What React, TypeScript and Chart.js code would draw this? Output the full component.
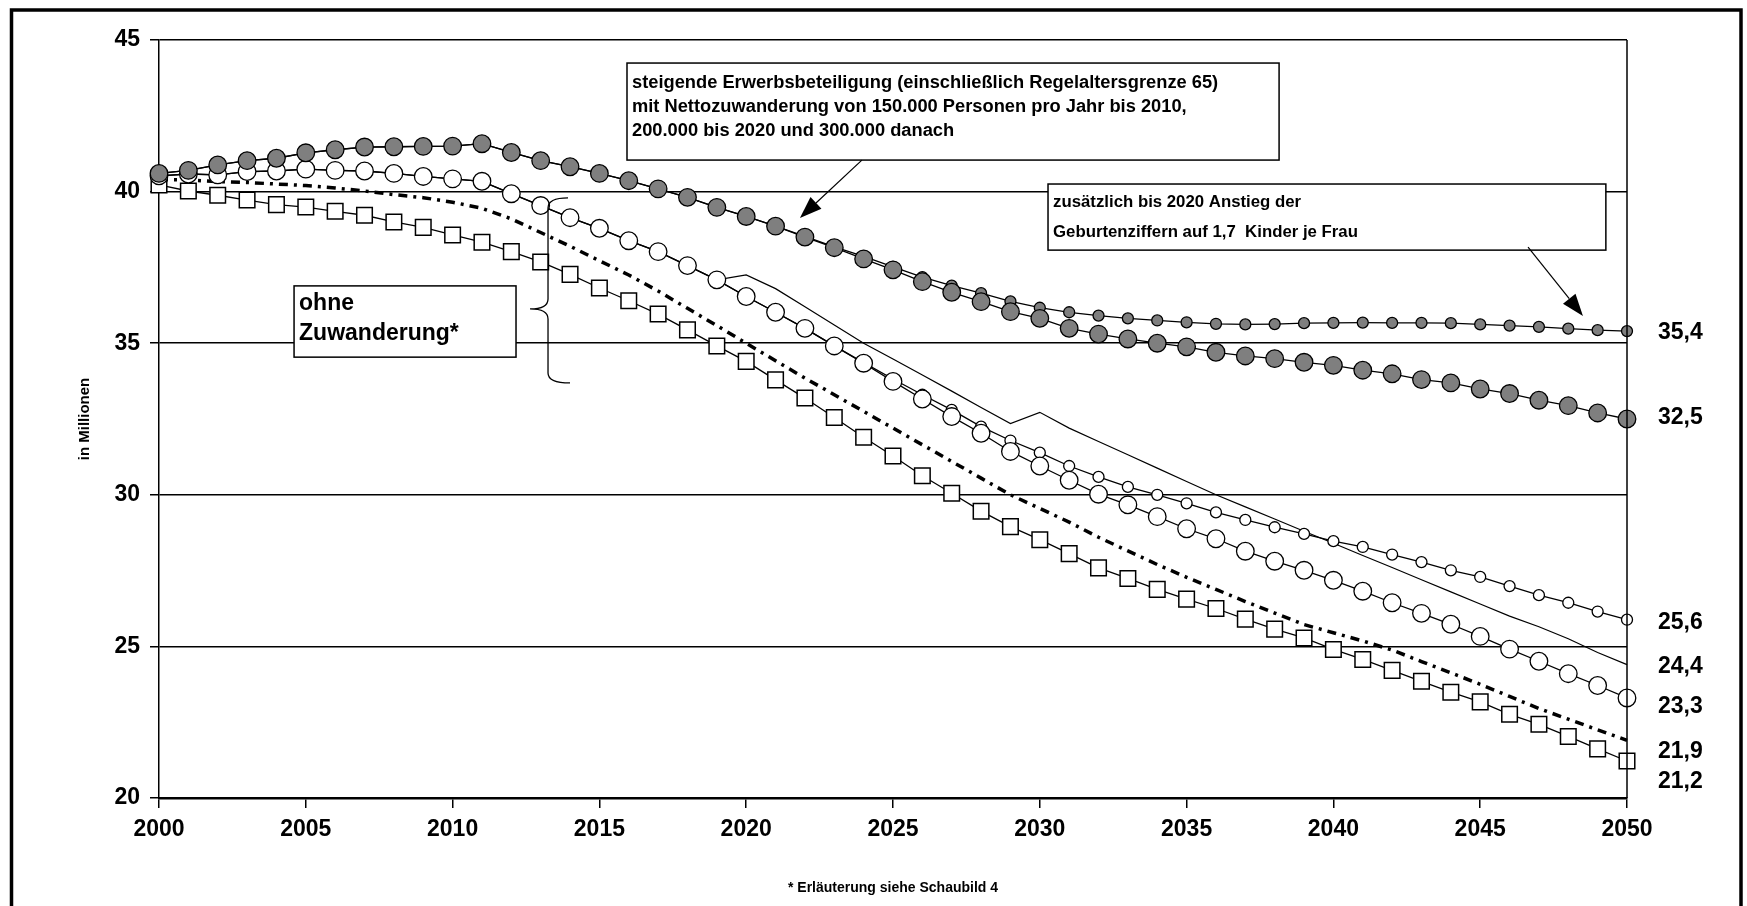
import React, { useEffect, useRef } from "react";
import { Chart, registerables } from "chart.js";

Chart.register(...registerables);

const FONT = '"Liberation Sans", Arial, Helvetica, sans-serif';

const YEARS = [
  2000, 2001, 2002, 2003, 2004, 2005, 2006, 2007, 2008, 2009,
  2010, 2011, 2012, 2013, 2014, 2015, 2016, 2017, 2018, 2019,
  2020, 2021, 2022, 2023, 2024, 2025, 2026, 2027, 2028, 2029,
  2030, 2031, 2032, 2033, 2034, 2035, 2036, 2037, 2038, 2039,
  2040, 2041, 2042, 2043, 2044, 2045, 2046, 2047, 2048, 2049, 2050,
];

// steigende Erwerbsbeteiligung mit Nettozuwanderung (große graue Punkte)
const MIGRATION_PARTICIPATION = [
  40.6, 40.7, 40.88, 41.02, 41.1, 41.28, 41.38, 41.47, 41.48, 41.49,
  41.5, 41.58, 41.29, 41.02, 40.82, 40.6, 40.36, 40.09, 39.81, 39.48,
  39.18, 38.86, 38.5, 38.15, 37.78, 37.42, 37.03, 36.68, 36.37, 36.04,
  35.82, 35.49, 35.3, 35.14, 35.0, 34.88, 34.7, 34.58, 34.49, 34.37,
  34.27, 34.11, 33.99, 33.8, 33.69, 33.49, 33.34, 33.12, 32.94, 32.7, 32.5,
];

// zusätzlich Anstieg der Geburtenziffern (kleine graue Punkte)
const MIGRATION_BIRTHS = [
  40.6, 40.7, 40.88, 41.02, 41.1, 41.28, 41.38, 41.47, 41.48, 41.49,
  41.5, 41.58, 41.29, 41.02, 40.82, 40.6, 40.36, 40.09, 39.81, 39.48,
  39.18, 38.86, 38.52, 38.18, 37.86, 37.52, 37.18, 36.9, 36.65, 36.38,
  36.17, 36.02, 35.91, 35.82, 35.75, 35.69, 35.64, 35.62, 35.63, 35.66,
  35.67, 35.68, 35.67, 35.67, 35.66, 35.62, 35.58, 35.54, 35.48, 35.43, 35.4,
];

// ohne Zuwanderung, steigende Erwerbsbeteiligung (große offene Kreise)
const NOMIG_PARTICIPATION = [
  40.52, 40.58, 40.55, 40.66, 40.68, 40.74, 40.7, 40.68, 40.6, 40.5,
  40.42, 40.34, 39.93, 39.54, 39.14, 38.79, 38.38, 38.02, 37.56, 37.09,
  36.54, 36.02, 35.49, 34.91, 34.34, 33.74, 33.16, 32.58, 32.03, 31.43,
  30.95, 30.48, 30.02, 29.67, 29.28, 28.88, 28.55, 28.14, 27.81, 27.51,
  27.18, 26.82, 26.44, 26.09, 25.73, 25.33, 24.91, 24.51, 24.1, 23.71, 23.3,
];

// ohne Zuwanderung, zusätzlich Geburtenziffern (kleine offene Kreise)
const NOMIG_BIRTHS = [
  40.52, 40.58, 40.55, 40.66, 40.68, 40.74, 40.7, 40.68, 40.6, 40.5,
  40.42, 40.34, 39.93, 39.54, 39.14, 38.79, 38.38, 38.02, 37.56, 37.09,
  36.54, 36.02, 35.49, 34.91, 34.36, 33.82, 33.3, 32.8, 32.25, 31.79,
  31.39, 30.95, 30.59, 30.26, 30.0, 29.72, 29.42, 29.17, 28.93, 28.71,
  28.47, 28.28, 28.03, 27.78, 27.51, 27.29, 26.99, 26.69, 26.44, 26.15, 25.88,
];

// dünne Linie ohne Markierungen
const NOMIG_THIN = [
  null, null, null, null, null, null, null, null, null, null,
  null, null, null, null, null, null, null, null, null, 37.09,
  37.25, 36.8, 36.2, 35.6, 35.0, 34.48, 33.95, 33.42, 32.88, 32.35,
  32.72, 32.2, 31.76, 31.32, 30.88, 30.44, 30.0, 29.6, 29.2, 28.8,
  28.4, 28.0, 27.6, 27.2, 26.8, 26.4, 26.0, 25.65, 25.25, 24.8, 24.4,
];

// Strich-Punkt-Linie
const NOMIG_DASHDOT = [
  40.4, 40.38, 40.33, 40.3, 40.25, 40.2, 40.12, 40.02, 39.9, 39.8,
  39.65, 39.45, 39.1, 38.65, 38.2, 37.72, 37.25, 36.72, 36.15, 35.58,
  35.0, 34.42, 33.85, 33.3, 32.75, 32.2, 31.65, 31.1, 30.55, 30.0,
  29.55, 29.1, 28.6, 28.15, 27.7, 27.28, 26.88, 26.48, 26.1, 25.72,
  25.45, 25.18, 24.88, 24.5, 24.13, 23.75, 23.35, 22.95, 22.6, 22.25, 21.9,
];

// offene Quadrate
const NOMIG_SQUARES = [
  40.22, 40.02, 39.88, 39.72, 39.57, 39.49, 39.35, 39.22, 39.0, 38.82,
  38.57, 38.33, 38.02, 37.68, 37.27, 36.82, 36.4, 35.96, 35.44, 34.91,
  34.4, 33.79, 33.19, 32.55, 31.9, 31.28, 30.63, 30.05, 29.46, 28.95,
  28.52, 28.06, 27.59, 27.24, 26.88, 26.56, 26.25, 25.9, 25.57, 25.28,
  24.9, 24.57, 24.21, 23.85, 23.49, 23.17, 22.76, 22.43, 22.03, 21.62, 21.22,
];

const Y_TICK_MIN = 20;
const Y_TICK_MAX = 45;
const Y_STEP = 5;
const X_STEP = 5;

const END_LABELS = ["35,4", "32,5", "25,6", "24,4", "23,3", "21,9", "21,2"];

const NOTE_MIGRATION = [
  "steigende Erwerbsbeteiligung (einschließlich Regelaltersgrenze 65)",
  "mit Nettozuwanderung von 150.000 Personen pro Jahr bis 2010,",
  "200.000 bis 2020 und 300.000 danach",
];
const NOTE_BIRTHS = [
  "zusätzlich bis 2020 Anstieg der",
  "Geburtenziffern auf 1,7  Kinder je Frau",
];
const NOTE_NONE = ["ohne", "Zuwanderung*"];
const Y_TITLE = "in Millionen";
const FOOTNOTE = "* Erläuterung siehe Schaubild 4";

// ---- layout (in data space of the axes) ----
const END_LABEL_ANCHORS = [35.34, 32.53, 25.77, 24.32, 23.0, 21.52, 20.53];
const BOX_MIGRATION = { x0: 2015.94, x1: 2038.15, y0: 44.24, y1: 41.04, lineOffsets: [20, 44, 68], size: 18.3 };
const BOX_BIRTHS = { x0: 2030.28, x1: 2049.28, y0: 40.25, y1: 38.07, lineOffsets: [18, 48], size: 16.8 };
const BOX_NONE = { x0: 2004.6, x1: 2012.16, y0: 36.89, y1: 34.54, lineOffsets: [18, 48], size: 23 };
const ARROW_MIGRATION = { from: [2023.94, 41.04], to: [2021.83, 39.13] };
const ARROW_BIRTHS = { from: [2046.63, 38.17], to: [2048.5, 35.9] };
const BRACE = { x: 2013.25, top: 39.79, mid: 36.13, bottom: 33.69 };

const toPoints = (arr: (number | null)[]) => arr.map((v, i) => ({ x: YEARS[i], y: v }));

const decorPlugin = {
  id: "decor",
  afterDraw(chart: any) {
    const { ctx, chartArea } = chart;
    const xs = chart.scales.x;
    const ys = chart.scales.y;
    const px = (v: number) => xs.getPixelForValue(v);
    const py = (v: number) => ys.getPixelForValue(v);

    ctx.save();
    // right border of plot area
    ctx.strokeStyle = "#000";
    ctx.lineWidth = 1.5;
    ctx.beginPath();
    ctx.moveTo(chartArea.right, chartArea.top);
    ctx.lineTo(chartArea.right, chartArea.bottom);
    ctx.stroke();

    // boxes
    const drawBox = (b: any, lines: string[]) => {
      const x0 = px(b.x0), x1 = px(b.x1), y0 = py(b.y0), y1 = py(b.y1);
      ctx.fillStyle = "#fff";
      ctx.fillRect(x0, y0, x1 - x0, y1 - y0);
      ctx.strokeStyle = "#000";
      ctx.lineWidth = 1.5;
      ctx.strokeRect(x0, y0, x1 - x0, y1 - y0);
      ctx.fillStyle = "#000";
      ctx.font = `bold ${b.size}px ${FONT}`;
      ctx.textAlign = "left";
      ctx.textBaseline = "middle";
      lines.forEach((t, i) => ctx.fillText(t, x0 + 5, y0 + b.lineOffsets[i]));
    };
    drawBox(BOX_MIGRATION, NOTE_MIGRATION);
    drawBox(BOX_BIRTHS, NOTE_BIRTHS);
    drawBox(BOX_NONE, NOTE_NONE);

    // arrows
    const drawArrow = (a: any) => {
      const fx = px(a.from[0]), fy = py(a.from[1]);
      const tx = px(a.to[0]), ty = py(a.to[1]);
      const ang = Math.atan2(ty - fy, tx - fx);
      const len = 22, half = 8;
      const bx = tx - len * Math.cos(ang), by = ty - len * Math.sin(ang);
      ctx.strokeStyle = "#000";
      ctx.lineWidth = 1.2;
      ctx.beginPath();
      ctx.moveTo(fx, fy);
      ctx.lineTo(bx, by);
      ctx.stroke();
      ctx.fillStyle = "#000";
      ctx.beginPath();
      ctx.moveTo(tx, ty);
      ctx.lineTo(bx + half * Math.sin(ang), by - half * Math.cos(ang));
      ctx.lineTo(bx - half * Math.sin(ang), by + half * Math.cos(ang));
      ctx.closePath();
      ctx.fill();
    };
    drawArrow(ARROW_MIGRATION);
    drawArrow(ARROW_BIRTHS);

    // brace
    const bx = px(BRACE.x);
    const yt = py(BRACE.top), ym = py(BRACE.mid), yb = py(BRACE.bottom);
    ctx.strokeStyle = "#000";
    ctx.lineWidth = 1.3;
    ctx.beginPath();
    ctx.moveTo(bx + 20, yt);
    ctx.quadraticCurveTo(bx, yt, bx, yt + 10);
    ctx.lineTo(bx, ym - 10);
    ctx.quadraticCurveTo(bx, ym, bx - 18, ym);
    ctx.quadraticCurveTo(bx, ym, bx, ym + 10);
    ctx.lineTo(bx, yb - 10);
    ctx.quadraticCurveTo(bx, yb, bx + 22, yb);
    ctx.stroke();

    // end labels
    ctx.fillStyle = "#000";
    ctx.font = `bold 23px ${FONT}`;
    ctx.textAlign = "left";
    ctx.textBaseline = "middle";
    END_LABELS.forEach((t, i) => ctx.fillText(t, chartArea.right + 31, py(END_LABEL_ANCHORS[i])));

    // outer frame
    ctx.lineWidth = 3.5;
    ctx.strokeRect(11.5, 10, 1729.5, 950);
    ctx.restore();
  },
};

export default function App() {
  const ref = useRef<HTMLCanvasElement | null>(null);

  useEffect(() => {
    document.body.style.margin = "0";
    const canvas = ref.current;
    if (!canvas) return;
    const line = (data: any[], extra: any) => ({
      data,
      borderColor: "#000",
      borderWidth: 1.3,
      pointBorderColor: "#000",
      pointBorderWidth: 1.3,
      tension: 0,
      clip: false,
      spanGaps: false,
      ...extra,
    });
    const chart = new Chart(canvas, {
      type: "line",
      data: {
        datasets: [
          line(toPoints(MIGRATION_PARTICIPATION), { label: "Zuwanderung", pointRadius: 8.8, pointBackgroundColor: "#7f7f7f" }),
          line(toPoints(MIGRATION_BIRTHS), { label: "Zuwanderung + Geburten", pointRadius: 5.5, pointBackgroundColor: "#7f7f7f" }),
          line(toPoints(NOMIG_PARTICIPATION), { label: "ohne Zuwanderung", pointRadius: 8.8, pointBackgroundColor: "#fff" }),
          line(toPoints(NOMIG_BIRTHS), { label: "ohne Zuwanderung + Geburten", pointRadius: 5.5, pointBackgroundColor: "#fff" }),
          line(toPoints(NOMIG_THIN), { label: "dünn", pointRadius: 0, borderWidth: 1.2 }),
          line(toPoints(NOMIG_DASHDOT), { label: "Strich-Punkt", pointRadius: 0, borderWidth: 3.5, borderDash: [9, 6, 3, 6] }),
          line(toPoints(NOMIG_SQUARES), { label: "Quadrate", pointRadius: 11, pointStyle: "rect", pointBackgroundColor: "#fff", pointBorderWidth: 1.5 }),
        ],
      },
      options: {
        responsive: false,
        devicePixelRatio: 1,
        animation: false,
        layout: { padding: { left: 0, top: 40, right: 120, bottom: 0 } },
        plugins: { legend: { display: false }, tooltip: { enabled: false } },
        scales: {
          x: {
            type: "linear",
            min: YEARS[0],
            max: YEARS[YEARS.length - 1],
            ticks: {
              stepSize: X_STEP,
              color: "#000",
              padding: 8,
              font: { family: FONT, size: 23, weight: "bold" },
              callback: (v: any) => String(v),
            },
            grid: { drawOnChartArea: false, drawTicks: true, tickLength: 10, color: "#000", lineWidth: 1.5 },
            border: { display: true, color: "#000", width: 2.5 },
            title: {
              display: true,
              text: FOOTNOTE,
              color: "#000",
              font: { family: FONT, size: 14, weight: "bold" },
              padding: { top: 0, bottom: 9.6 },
            },
            afterFit: (s: any) => { s.height = 108; },
          },
          y: {
            min: Y_TICK_MIN,
            max: Y_TICK_MAX,
            ticks: {
              stepSize: Y_STEP,
              color: "#000",
              padding: 10,
              font: { family: FONT, size: 23, weight: "bold" },
            },
            grid: { color: "#000", lineWidth: 1.5, drawTicks: true, tickLength: 9 },
            border: { display: true, color: "#000", width: 1.5 },
            title: {
              display: true,
              text: Y_TITLE,
              color: "#000",
              font: { family: FONT, size: 15, weight: "bold" },
              padding: { top: 76, bottom: 0 },
            },
            afterFit: (s: any) => { s.width = 159; },
          },
        },
      } as any,
      plugins: [decorPlugin],
    });
    return () => chart.destroy();
  }, []);

  return (
    <div style={{ position: "absolute", left: 0, top: 0, width: 1747, height: 906, background: "#fff" }}>
      <canvas ref={ref} width={1747} height={906} style={{ display: "block", width: 1747, height: 906 }} />
    </div>
  );
}
